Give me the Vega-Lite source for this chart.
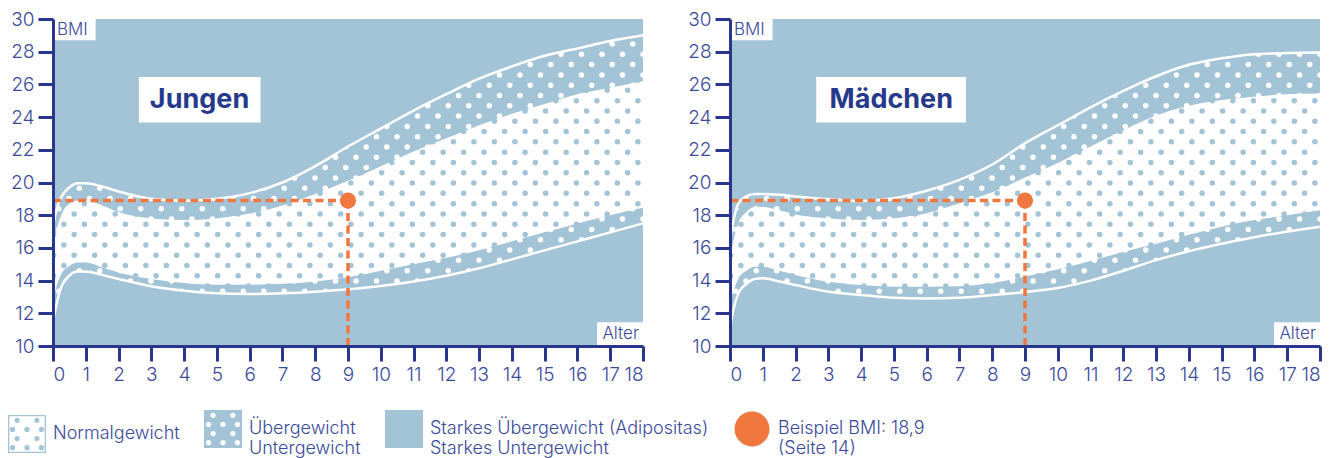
{
"$schema":"https://vega.github.io/schema/vega-lite/v6.json",
"padding":{"left":8,"top":10,"right":0,"bottom":0},
"spacing":39,
"datasets":{
"boys":[
{"age":0,"p3":11.5,"p10":12.8,"p90":15.8,"p97":17.3},
{"age":0.1,"p3":12.5,"p10":13.6,"p90":17.0,"p97":18.3},
{"age":0.25,"p3":13.6,"p10":14.4,"p90":18.0,"p97":19.1},
{"age":0.5,"p3":14.3,"p10":14.9,"p90":18.7,"p97":19.7},
{"age":0.75,"p3":14.55,"p10":15.1,"p90":18.9,"p97":19.95},
{"age":1,"p3":14.55,"p10":15.1,"p90":18.9,"p97":19.95},
{"age":1.5,"p3":14.35,"p10":14.8,"p90":18.6,"p97":19.75},
{"age":2,"p3":14.1,"p10":14.5,"p90":18.2,"p97":19.45},
{"age":3,"p3":13.65,"p10":14.1,"p90":17.8,"p97":19.0},
{"age":4,"p3":13.38,"p10":13.85,"p90":17.7,"p97":18.88},
{"age":5,"p3":13.23,"p10":13.75,"p90":17.8,"p97":19.0},
{"age":6,"p3":13.18,"p10":13.75,"p90":18.1,"p97":19.35},
{"age":7,"p3":13.22,"p10":13.8,"p90":18.6,"p97":20.0},
{"age":8,"p3":13.32,"p10":13.95,"p90":19.3,"p97":21.0},
{"age":9,"p3":13.47,"p10":14.2,"p90":20.1,"p97":22.2},
{"age":10,"p3":13.67,"p10":14.6,"p90":21.0,"p97":23.3},
{"age":11,"p3":13.95,"p10":15.0,"p90":21.9,"p97":24.4},
{"age":12,"p3":14.3,"p10":15.4,"p90":22.7,"p97":25.4},
{"age":13,"p3":14.75,"p10":15.85,"p90":23.5,"p97":26.35},
{"age":14,"p3":15.3,"p10":16.4,"p90":24.2,"p97":27.1},
{"age":15,"p3":15.85,"p10":16.95,"p90":24.8,"p97":27.75},
{"age":16,"p3":16.4,"p10":17.5,"p90":25.4,"p97":28.2},
{"age":17,"p3":16.95,"p10":18.0,"p90":25.8,"p97":28.65},
{"age":18,"p3":17.5,"p10":18.45,"p90":26.2,"p97":29.0}
],
"girls":[
{"age":0,"p3":11.0,"p10":12.5,"p90":15.3,"p97":16.5},
{"age":0.1,"p3":12.2,"p10":13.3,"p90":16.4,"p97":17.6},
{"age":0.25,"p3":13.2,"p10":14.1,"p90":17.5,"p97":18.7},
{"age":0.5,"p3":13.8,"p10":14.6,"p90":18.2,"p97":19.15},
{"age":0.75,"p3":14.1,"p10":14.85,"p90":18.5,"p97":19.3},
{"age":1,"p3":14.14,"p10":14.85,"p90":18.5,"p97":19.3},
{"age":1.5,"p3":13.95,"p10":14.6,"p90":18.3,"p97":19.25},
{"age":2,"p3":13.73,"p10":14.35,"p90":18.05,"p97":19.15},
{"age":3,"p3":13.32,"p10":13.93,"p90":17.81,"p97":18.98},
{"age":4,"p3":13.12,"p10":13.73,"p90":17.71,"p97":18.87},
{"age":5,"p3":12.95,"p10":13.63,"p90":17.81,"p97":19.04},
{"age":6,"p3":12.91,"p10":13.63,"p90":18.12,"p97":19.5},
{"age":7,"p3":12.95,"p10":13.66,"p90":18.73,"p97":20.16},
{"age":8,"p3":13.12,"p10":13.85,"p90":19.4,"p97":21.1},
{"age":9,"p3":13.3,"p10":14.25,"p90":20.3,"p97":22.4},
{"age":10,"p3":13.55,"p10":14.7,"p90":21.2,"p97":23.5},
{"age":11,"p3":14.0,"p10":15.2,"p90":22.2,"p97":24.6},
{"age":12,"p3":14.6,"p10":15.75,"p90":23.2,"p97":25.6},
{"age":13,"p3":15.25,"p10":16.25,"p90":24.1,"p97":26.5},
{"age":14,"p3":15.8,"p10":16.8,"p90":24.7,"p97":27.2},
{"age":15,"p3":16.25,"p10":17.3,"p90":25.05,"p97":27.6},
{"age":16,"p3":16.65,"p10":17.7,"p90":25.25,"p97":27.85},
{"age":17,"p3":17.0,"p10":18.0,"p90":25.4,"p97":27.92},
{"age":18,"p3":17.3,"p10":18.3,"p90":25.45,"p97":27.95}
],
"dA0":[{"y":10.2},{"y":11.46},{"y":12.72},{"y":13.98},{"y":15.24},{"y":16.5},{"y":17.76},{"y":19.02},{"y":20.28},{"y":21.54},{"y":22.8},{"y":24.06},{"y":25.32},{"y":26.58},{"y":27.84},{"y":29.1}],
"dA1":[{"y":10.83},{"y":12.09},{"y":13.35},{"y":14.61},{"y":15.87},{"y":17.13},{"y":18.39},{"y":19.65},{"y":20.91},{"y":22.17},{"y":23.43},{"y":24.69},{"y":25.95},{"y":27.21},{"y":28.47},{"y":29.73}],
"dB0":[{"y":10.515},{"y":11.775},{"y":13.035},{"y":14.295},{"y":15.555},{"y":16.815},{"y":18.075},{"y":19.335},{"y":20.595},{"y":21.855},{"y":23.115},{"y":24.375},{"y":25.635},{"y":26.895},{"y":28.155},{"y":29.415}],
"dB1":[{"y":11.145},{"y":12.405},{"y":13.665},{"y":14.925},{"y":16.185},{"y":17.445},{"y":18.705},{"y":19.965},{"y":21.225},{"y":22.485},{"y":23.745},{"y":25.005},{"y":26.265},{"y":27.525},{"y":28.785}],
"example":[{"age":9,"bmi":18.9}],
"exampleGuide":[{"seg":"h","age":0,"bmi":18.9},{"seg":"h","age":9,"bmi":18.9},{"seg":"v","age":9,"bmi":18.9},{"seg":"v","age":9,"bmi":10}],
"one":[{"n":1}],
"legendItems":[{"k":"Normalgewicht"}]
},
"hconcat":[
{"width":590,"height":327,"layer":[
{"data":{"name":"one"},"mark":{"type":"rect","fill":"#a3c3d6"},"encoding":{"x":{"datum":0,"type":"quantitative","title":null,"scale":{"domain":[0,18],"nice":false}},"x2":{"datum":18},"y":{"datum":10,"type":"quantitative","title":null,"scale":{"domain":[10,30],"nice":false}},"y2":{"datum":30}}},
{"data":{"name":"dA0"},"mark":{"type":"rule","stroke":"#ffffff","strokeWidth":5.5,"strokeCap":"round","strokeDash":[0,20.5],"strokeDashOffset":0,"clip":true},"encoding":{"y":{"field":"y","type":"quantitative","title":null,"scale":{"domain":[10,30],"nice":false}}}},
{"data":{"name":"dA1"},"mark":{"type":"rule","stroke":"#ffffff","strokeWidth":5.5,"strokeCap":"round","strokeDash":[0,20.5],"strokeDashOffset":10.25,"clip":true},"encoding":{"y":{"field":"y","type":"quantitative","title":null,"scale":{"domain":[10,30],"nice":false}}}},
{"data":{"name":"boys"},"mark":{"type":"area","fill":"#ffffff","interpolate":"monotone"},"encoding":{"x":{"field":"age","type":"quantitative","title":null,"scale":{"domain":[0,18],"nice":false},"axis":{"zindex":1}},"y":{"field":"p90","type":"quantitative","title":null,"scale":{"domain":[10,30],"nice":false},"axis":{"zindex":1}},"y2":{"field":"p10"}}},
{"data":{"name":"dB0"},"mark":{"type":"rule","stroke":"#a3c3d6","strokeWidth":5.5,"strokeCap":"round","strokeDash":[0,20.5],"strokeDashOffset":5.125,"clip":true},"encoding":{"y":{"field":"y","type":"quantitative","title":null,"scale":{"domain":[10,30],"nice":false}}}},
{"data":{"name":"dB1"},"mark":{"type":"rule","stroke":"#a3c3d6","strokeWidth":5.5,"strokeCap":"round","strokeDash":[0,20.5],"strokeDashOffset":15.375,"clip":true},"encoding":{"y":{"field":"y","type":"quantitative","title":null,"scale":{"domain":[10,30],"nice":false}}}},
{"data":{"name":"boys"},"mark":{"type":"area","fill":"#a3c3d6","interpolate":"monotone"},"encoding":{"x":{"field":"age","type":"quantitative","title":null,"scale":{"domain":[0,18],"nice":false}},"y":{"field":"p97","type":"quantitative","title":null,"scale":{"domain":[10,30],"nice":false}},"y2":{"datum":30}}},
{"data":{"name":"boys"},"mark":{"type":"area","fill":"#a3c3d6","interpolate":"monotone"},"encoding":{"x":{"field":"age","type":"quantitative","title":null,"scale":{"domain":[0,18],"nice":false}},"y":{"field":"p3","type":"quantitative","title":null,"scale":{"domain":[10,30],"nice":false}},"y2":{"datum":10}}},
{"data":{"name":"boys"},"mark":{"type":"line","stroke":"#ffffff","strokeWidth":2.5,"interpolate":"monotone"},"encoding":{"x":{"field":"age","type":"quantitative","title":null,"scale":{"domain":[0,18],"nice":false}},"y":{"field":"p97","type":"quantitative","title":null,"scale":{"domain":[10,30],"nice":false}}}},
{"data":{"name":"boys"},"mark":{"type":"line","stroke":"#ffffff","strokeWidth":2.5,"interpolate":"monotone"},"encoding":{"x":{"field":"age","type":"quantitative","title":null,"scale":{"domain":[0,18],"nice":false}},"y":{"field":"p3","type":"quantitative","title":null,"scale":{"domain":[10,30],"nice":false}}}},
{"data":{"name":"exampleGuide"},"mark":{"type":"line","stroke":"#f0773f","strokeWidth":3.5,"strokeDash":[8,4.5]},"encoding":{"x":{"field":"age","type":"quantitative","title":null,"scale":{"domain":[0,18],"nice":false}},"y":{"field":"bmi","type":"quantitative","title":null,"scale":{"domain":[10,30],"nice":false}},"detail":{"field":"seg","type":"nominal"}}},
{"data":{"name":"example"},"mark":{"type":"point","filled":true,"fill":"#f0773f","opacity":1,"size":260,"strokeWidth":0},"encoding":{"x":{"field":"age","type":"quantitative","title":null,"scale":{"domain":[0,18],"nice":false}},"y":{"field":"bmi","type":"quantitative","title":null,"scale":{"domain":[10,30],"nice":false}}}},
{"data":{"name":"one"},"mark":{"type":"rect","fill":"#ffffff"},"encoding":{"x":{"datum":2.62,"type":"quantitative","title":null,"scale":{"domain":[0,18],"nice":false}},"x2":{"datum":6.33},"y":{"datum":23.67,"type":"quantitative","title":null,"scale":{"domain":[10,30],"nice":false}},"y2":{"datum":26.45}}},
{"data":{"name":"one"},"mark":{"type":"text","text":"Jungen","font":"Inter","fontWeight":700,"fontSize":27,"fill":"#263a8c","align":"center","baseline":"middle"},"encoding":{"x":{"datum":4.47,"type":"quantitative","title":null,"scale":{"domain":[0,18],"nice":false}},"y":{"datum":25.06,"type":"quantitative","title":null,"scale":{"domain":[10,30],"nice":false}}}},
{"data":{"name":"one"},"mark":{"type":"rect","fill":"#ffffff"},"encoding":{"x":{"datum":0,"type":"quantitative","title":null,"scale":{"domain":[0,18],"nice":false}},"x2":{"datum":1.3},"y":{"datum":28.7,"type":"quantitative","title":null,"scale":{"domain":[10,30],"nice":false}},"y2":{"datum":30}}},
{"data":{"name":"one"},"mark":{"type":"text","text":"BMI","font":"Inter","fontWeight":300,"fontSize":17,"fill":"#3a4a9a","align":"left","baseline":"middle","dx":4},"encoding":{"x":{"datum":0,"type":"quantitative","title":null,"scale":{"domain":[0,18],"nice":false}},"y":{"datum":29.35,"type":"quantitative","title":null,"scale":{"domain":[10,30],"nice":false}}}},
{"data":{"name":"one"},"mark":{"type":"rect","fill":"#ffffff"},"encoding":{"x":{"datum":16.6,"type":"quantitative","title":null,"scale":{"domain":[0,18],"nice":false}},"x2":{"datum":18},"y":{"datum":10,"type":"quantitative","title":null,"scale":{"domain":[10,30],"nice":false}},"y2":{"datum":11.45}}},
{"data":{"name":"one"},"mark":{"type":"text","text":"Alter","font":"Inter","fontWeight":300,"fontSize":17,"fill":"#3a4a9a","align":"right","baseline":"middle","dx":-4},"encoding":{"x":{"datum":18,"type":"quantitative","title":null,"scale":{"domain":[0,18],"nice":false}},"y":{"datum":10.72,"type":"quantitative","title":null,"scale":{"domain":[10,30],"nice":false}}}},
{"data":{"name":"legendItems"},"transform":[{"filter":"false"}],"mark":{"type":"point","filled":true,"opacity":1},"encoding":{
"color":{"field":"k","type":"nominal","scale":{"domain":["Normalgewicht","Übergewicht|Untergewicht","Starkes Übergewicht (Adipositas)|Starkes Untergewicht","Beispiel BMI: 18,9|(Seite 14)"],"range":["#a3c3d6","#a3c3d6","#a3c3d6","#f0773f"]},"legend":{"title":null,"labelExpr":"split(datum.label, '|')"}},
"shape":{"field":"k","type":"nominal","scale":{"domain":["Normalgewicht","Übergewicht|Untergewicht","Starkes Übergewicht (Adipositas)|Starkes Untergewicht","Beispiel BMI: 18,9|(Seite 14)"],"range":[
"M-1,-1H1V1H-1ZM-0.93,-0.93V0.93H0.93V-0.93ZM-0.66,-0.72a0.14,0.14 0 1 1 0.28,0a0.14,0.14 0 1 1 -0.28,0ZM0.38,-0.72a0.14,0.14 0 1 1 0.28,0a0.14,0.14 0 1 1 -0.28,0ZM-0.9,-0.24a0.14,0.14 0 1 1 0.28,0a0.14,0.14 0 1 1 -0.28,0ZM-0.14,-0.24a0.14,0.14 0 1 1 0.28,0a0.14,0.14 0 1 1 -0.28,0ZM0.62,-0.24a0.14,0.14 0 1 1 0.28,0a0.14,0.14 0 1 1 -0.28,0ZM-0.66,0.24a0.14,0.14 0 1 1 0.28,0a0.14,0.14 0 1 1 -0.28,0ZM0.38,0.24a0.14,0.14 0 1 1 0.28,0a0.14,0.14 0 1 1 -0.28,0ZM-0.9,0.72a0.14,0.14 0 1 1 0.28,0a0.14,0.14 0 1 1 -0.28,0ZM-0.14,0.72a0.14,0.14 0 1 1 0.28,0a0.14,0.14 0 1 1 -0.28,0ZM0.62,0.72a0.14,0.14 0 1 1 0.28,0a0.14,0.14 0 1 1 -0.28,0Z",
"M-1,-1H1V1H-1ZM-0.66,-0.72a0.14,0.14 0 1 0 0.28,0a0.14,0.14 0 1 0 -0.28,0ZM0.38,-0.72a0.14,0.14 0 1 0 0.28,0a0.14,0.14 0 1 0 -0.28,0ZM-0.9,-0.24a0.14,0.14 0 1 0 0.28,0a0.14,0.14 0 1 0 -0.28,0ZM-0.14,-0.24a0.14,0.14 0 1 0 0.28,0a0.14,0.14 0 1 0 -0.28,0ZM0.62,-0.24a0.14,0.14 0 1 0 0.28,0a0.14,0.14 0 1 0 -0.28,0ZM-0.66,0.24a0.14,0.14 0 1 0 0.28,0a0.14,0.14 0 1 0 -0.28,0ZM0.38,0.24a0.14,0.14 0 1 0 0.28,0a0.14,0.14 0 1 0 -0.28,0ZM-0.9,0.72a0.14,0.14 0 1 0 0.28,0a0.14,0.14 0 1 0 -0.28,0ZM-0.14,0.72a0.14,0.14 0 1 0 0.28,0a0.14,0.14 0 1 0 -0.28,0ZM0.62,0.72a0.14,0.14 0 1 0 0.28,0a0.14,0.14 0 1 0 -0.28,0Z",
"square",
"M-0.92,0a0.92,0.92 0 1 1 1.84,0a0.92,0.92 0 1 1 -1.84,0Z"]},"legend":{"title":null,"labelExpr":"split(datum.label, '|')"}}
}}
]},
{"width":590,"height":327,"layer":[
{"data":{"name":"one"},"mark":{"type":"rect","fill":"#a3c3d6"},"encoding":{"x":{"datum":0,"type":"quantitative","title":null,"scale":{"domain":[0,18],"nice":false}},"x2":{"datum":18},"y":{"datum":10,"type":"quantitative","title":null,"scale":{"domain":[10,30],"nice":false}},"y2":{"datum":30}}},
{"data":{"name":"dA0"},"mark":{"type":"rule","stroke":"#ffffff","strokeWidth":5.5,"strokeCap":"round","strokeDash":[0,20.5],"strokeDashOffset":0,"clip":true},"encoding":{"y":{"field":"y","type":"quantitative","title":null,"scale":{"domain":[10,30],"nice":false}}}},
{"data":{"name":"dA1"},"mark":{"type":"rule","stroke":"#ffffff","strokeWidth":5.5,"strokeCap":"round","strokeDash":[0,20.5],"strokeDashOffset":10.25,"clip":true},"encoding":{"y":{"field":"y","type":"quantitative","title":null,"scale":{"domain":[10,30],"nice":false}}}},
{"data":{"name":"girls"},"mark":{"type":"area","fill":"#ffffff","interpolate":"monotone"},"encoding":{"x":{"field":"age","type":"quantitative","title":null,"scale":{"domain":[0,18],"nice":false},"axis":{"zindex":1}},"y":{"field":"p90","type":"quantitative","title":null,"scale":{"domain":[10,30],"nice":false},"axis":{"zindex":1}},"y2":{"field":"p10"}}},
{"data":{"name":"dB0"},"mark":{"type":"rule","stroke":"#a3c3d6","strokeWidth":5.5,"strokeCap":"round","strokeDash":[0,20.5],"strokeDashOffset":5.125,"clip":true},"encoding":{"y":{"field":"y","type":"quantitative","title":null,"scale":{"domain":[10,30],"nice":false}}}},
{"data":{"name":"dB1"},"mark":{"type":"rule","stroke":"#a3c3d6","strokeWidth":5.5,"strokeCap":"round","strokeDash":[0,20.5],"strokeDashOffset":15.375,"clip":true},"encoding":{"y":{"field":"y","type":"quantitative","title":null,"scale":{"domain":[10,30],"nice":false}}}},
{"data":{"name":"girls"},"mark":{"type":"area","fill":"#a3c3d6","interpolate":"monotone"},"encoding":{"x":{"field":"age","type":"quantitative","title":null,"scale":{"domain":[0,18],"nice":false}},"y":{"field":"p97","type":"quantitative","title":null,"scale":{"domain":[10,30],"nice":false}},"y2":{"datum":30}}},
{"data":{"name":"girls"},"mark":{"type":"area","fill":"#a3c3d6","interpolate":"monotone"},"encoding":{"x":{"field":"age","type":"quantitative","title":null,"scale":{"domain":[0,18],"nice":false}},"y":{"field":"p3","type":"quantitative","title":null,"scale":{"domain":[10,30],"nice":false}},"y2":{"datum":10}}},
{"data":{"name":"girls"},"mark":{"type":"line","stroke":"#ffffff","strokeWidth":2.5,"interpolate":"monotone"},"encoding":{"x":{"field":"age","type":"quantitative","title":null,"scale":{"domain":[0,18],"nice":false}},"y":{"field":"p97","type":"quantitative","title":null,"scale":{"domain":[10,30],"nice":false}}}},
{"data":{"name":"girls"},"mark":{"type":"line","stroke":"#ffffff","strokeWidth":2.5,"interpolate":"monotone"},"encoding":{"x":{"field":"age","type":"quantitative","title":null,"scale":{"domain":[0,18],"nice":false}},"y":{"field":"p3","type":"quantitative","title":null,"scale":{"domain":[10,30],"nice":false}}}},
{"data":{"name":"exampleGuide"},"mark":{"type":"line","stroke":"#f0773f","strokeWidth":3.5,"strokeDash":[8,4.5]},"encoding":{"x":{"field":"age","type":"quantitative","title":null,"scale":{"domain":[0,18],"nice":false}},"y":{"field":"bmi","type":"quantitative","title":null,"scale":{"domain":[10,30],"nice":false}},"detail":{"field":"seg","type":"nominal"}}},
{"data":{"name":"example"},"mark":{"type":"point","filled":true,"fill":"#f0773f","opacity":1,"size":260,"strokeWidth":0},"encoding":{"x":{"field":"age","type":"quantitative","title":null,"scale":{"domain":[0,18],"nice":false}},"y":{"field":"bmi","type":"quantitative","title":null,"scale":{"domain":[10,30],"nice":false}}}},
{"data":{"name":"one"},"mark":{"type":"rect","fill":"#ffffff"},"encoding":{"x":{"datum":2.63,"type":"quantitative","title":null,"scale":{"domain":[0,18],"nice":false}},"x2":{"datum":7.2},"y":{"datum":23.67,"type":"quantitative","title":null,"scale":{"domain":[10,30],"nice":false}},"y2":{"datum":26.45}}},
{"data":{"name":"one"},"mark":{"type":"text","text":"Mädchen","font":"Inter","fontWeight":700,"fontSize":27,"fill":"#263a8c","align":"center","baseline":"middle"},"encoding":{"x":{"datum":4.92,"type":"quantitative","title":null,"scale":{"domain":[0,18],"nice":false}},"y":{"datum":25.06,"type":"quantitative","title":null,"scale":{"domain":[10,30],"nice":false}}}},
{"data":{"name":"one"},"mark":{"type":"rect","fill":"#ffffff"},"encoding":{"x":{"datum":0,"type":"quantitative","title":null,"scale":{"domain":[0,18],"nice":false}},"x2":{"datum":1.3},"y":{"datum":28.7,"type":"quantitative","title":null,"scale":{"domain":[10,30],"nice":false}},"y2":{"datum":30}}},
{"data":{"name":"one"},"mark":{"type":"text","text":"BMI","font":"Inter","fontWeight":300,"fontSize":17,"fill":"#3a4a9a","align":"left","baseline":"middle","dx":4},"encoding":{"x":{"datum":0,"type":"quantitative","title":null,"scale":{"domain":[0,18],"nice":false}},"y":{"datum":29.35,"type":"quantitative","title":null,"scale":{"domain":[10,30],"nice":false}}}},
{"data":{"name":"one"},"mark":{"type":"rect","fill":"#ffffff"},"encoding":{"x":{"datum":16.6,"type":"quantitative","title":null,"scale":{"domain":[0,18],"nice":false}},"x2":{"datum":18},"y":{"datum":10,"type":"quantitative","title":null,"scale":{"domain":[10,30],"nice":false}},"y2":{"datum":11.45}}},
{"data":{"name":"one"},"mark":{"type":"text","text":"Alter","font":"Inter","fontWeight":300,"fontSize":17,"fill":"#3a4a9a","align":"right","baseline":"middle","dx":-4},"encoding":{"x":{"datum":18,"type":"quantitative","title":null,"scale":{"domain":[0,18],"nice":false}},"y":{"datum":10.72,"type":"quantitative","title":null,"scale":{"domain":[10,30],"nice":false}}}}
]}
],
"config":{
"view":{"stroke":null,"fill":"#a3c3d6"},
"axis":{"domainColor":"#28368c","domainWidth":3,"tickColor":"#28368c","tickWidth":3,"tickSize":15,"labelFont":"Inter","labelFontWeight":300,"labelFontSize":19,"labelColor":"#3a4a9a","labelPadding":4,"grid":false},
"axisX":{"tickCount":18},
"axisY":{"tickCount":10},
"legend":{"orient":"none","legendX":-45,"legendY":391,"direction":"horizontal","symbolSize":1444,"symbolStrokeWidth":0,"symbolOpacity":1,"labelFont":"Inter","labelFontWeight":300,"labelFontSize":18,"labelColor":"#3a4a9a","labelLimit":600,"labelOffset":7,"columnPadding":24,"padding":0}
}
}
